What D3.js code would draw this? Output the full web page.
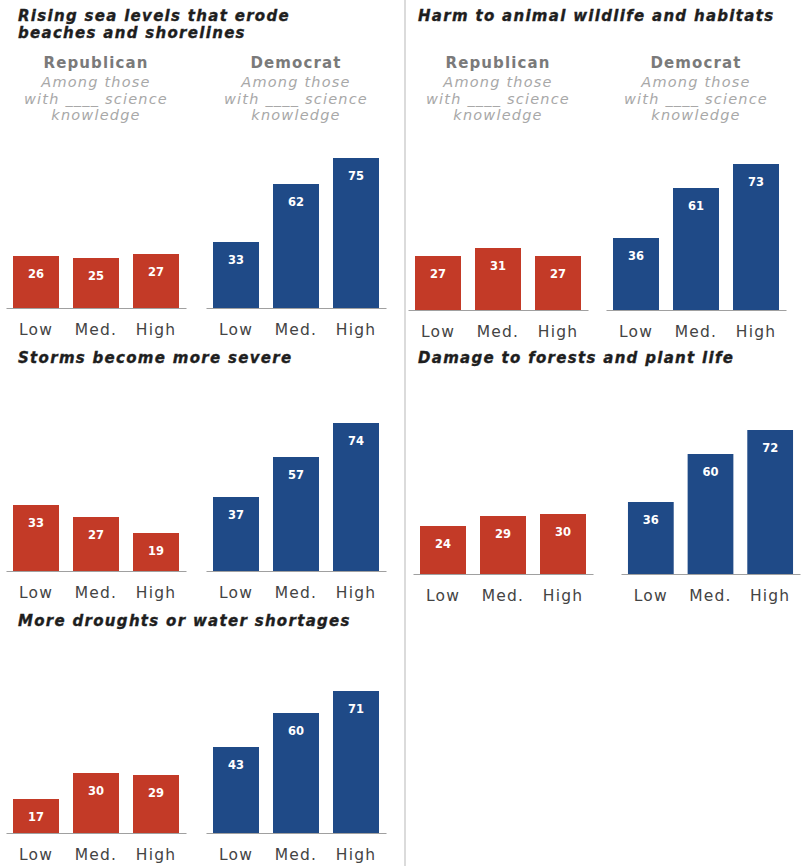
<!DOCTYPE html>
<html>
<head>
<meta charset="utf-8">
<script src="https://cdn.jsdelivr.net/npm/d3@7"></script>
<style>
  html, body { margin: 0; padding: 0; background: #fff; }
  svg { display: block; }
</style>
</head>
<body>
<svg id="chart" width="807" height="866"></svg>
<script>
// ---------- DATA ----------
const categories = ["Low", "Med.", "High"];
const titles = [
  ["Rising sea levels that erode", "beaches and shorelines"],
  ["Harm to animal wildlife and habitats"],
  ["Storms become more severe"],
  ["Damage to forests and plant life"],
  ["More droughts or water shortages"]
];
const republicanValues = [
  [26, 25, 27],
  [27, 31, 27],
  [33, 27, 19],
  [24, 29, 30],
  [17, 30, 29]
];
const democratValues = [
  [33, 62, 75],
  [36, 61, 73],
  [37, 57, 74],
  [36, 60, 72],
  [43, 60, 71]
];
const partyLabels = ["Republican", "Democrat"];
const subLabelLines = ["Among those", "with ____ science", "knowledge"];

// ---------- LAYOUT ----------
const layout = [
  { tx: 18,  ty: 21,  rep: [6, 186],   dem: [206, 386], base: 308, header: true },
  { tx: 418, ty: 21,  rep: [408, 588], dem: [606, 786], base: 310, header: true },
  { tx: 18,  ty: 363, rep: [6, 186],   dem: [206, 386], base: 571, header: false },
  { tx: 418, ty: 363, rep: [413, 593], dem: [621, 800], base: 574, header: false },
  { tx: 18,  ty: 626, rep: [6, 186],   dem: [206, 386], base: 833, header: false }
];
const colors = { rep: "#c33a27", dem: "#1f4a87" };

const svg = d3.select("#chart");

// divider
svg.append("line")
  .attr("x1", 405).attr("x2", 405).attr("y1", 0).attr("y2", 866)
  .attr("stroke", "#cfcfcf").attr("stroke-width", 1.5);

layout.forEach((L, i) => {
  const g = svg.append("g");

  // title (one text element per line)
  titles[i].forEach((line, j) => {
    g.append("text")
      .attr("x", L.tx).attr("y", L.ty + j * 17)
      .attr("font-family", "DejaVu Sans")
      .attr("font-weight", "bold").attr("font-style", "italic")
      .attr("font-size", 15).attr("letter-spacing", 1.3)
      .attr("fill", "#1e1e1e")
      .attr("stroke", "#1e1e1e").attr("stroke-width", 0.35)
      .text(line);
  });

  const y = d3.scaleLinear().domain([0, 100]).range([L.base, L.base - 200]);

  [["rep", republicanValues[i]], ["dem", democratValues[i]]].forEach(([party, vals], k) => {
    const x = d3.scaleBand().domain(categories).range(L[party])
      .paddingInner(14 / 60).paddingOuter(0.1167);

    // header
    if (L.header) {
      const cx = (L[party][0] + L[party][1]) / 2;
      g.append("text")
        .attr("x", cx).attr("y", 68)
        .attr("text-anchor", "middle")
        .attr("font-family", "DejaVu Sans").attr("font-weight", "bold")
        .attr("font-size", 15).attr("letter-spacing", 1.1)
        .attr("fill", "#7a7a7a")
        .text(partyLabels[k]);
      subLabelLines.forEach((s, j) => {
        g.append("text")
          .attr("x", cx).attr("y", 87 + j * 16.5)
          .attr("text-anchor", "middle")
          .attr("font-family", "DejaVu Sans").attr("font-style", "italic")
          .attr("font-size", 14.5).attr("letter-spacing", 1.2)
          .attr("fill", "#a8a8a8")
          .text(s);
      });
    }

    // bars
    const data = categories.map((c, j) => ({ c, v: vals[j] }));
    g.selectAll(null).data(data).enter().append("rect")
      .attr("x", d => x(d.c))
      .attr("width", x.bandwidth())
      .attr("y", d => y(d.v))
      .attr("height", d => y(0) - y(d.v))
      .attr("fill", colors[party]);

    g.selectAll(null).data(data).enter().append("text")
      .attr("x", d => x(d.c) + x.bandwidth() / 2)
      .attr("y", d => y(d.v) + 22)
      .attr("text-anchor", "middle")
      .attr("font-family", "DejaVu Sans").attr("font-weight", "bold")
      .attr("font-size", 11.5)
      .attr("fill", "#fff")
      .text(d => d.v);

    // axis
    const ax = g.append("g")
      .attr("transform", `translate(0,${L.base})`)
      .call(d3.axisBottom(x).tickSize(0).tickSizeOuter(0).tickPadding(15.5));
    ax.select(".domain").attr("stroke", "#a0a0a0").attr("stroke-width", 1.2);
    ax.selectAll(".tick text")
      .attr("font-family", "DejaVu Sans").attr("font-size", 15.5)
      .attr("letter-spacing", 1.2).attr("fill", "#444");
  });
});
</script>
</body>
</html>
